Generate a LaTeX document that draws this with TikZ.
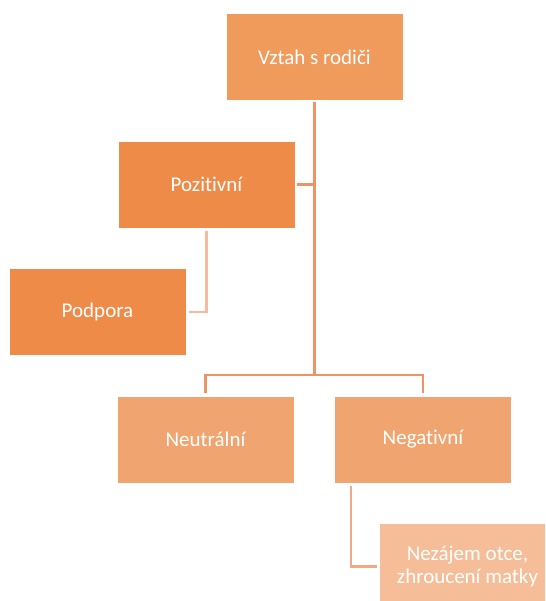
\documentclass[tikz,border=0pt]{standalone}
\usepackage{fontspec}
\setmainfont{Carlito}[Ligatures={NoCommon,NoContextual}]
\usepackage{xcolor}
\usetikzlibrary{calc,positioning}

\definecolor{topfill}{RGB}{240,154,92}
\definecolor{posfill}{RGB}{238,139,72}
\definecolor{midfill}{RGB}{240,165,112}
\definecolor{lowfill}{RGB}{245,190,153}
\definecolor{mainline}{RGB}{239,146,102}
\definecolor{softline}{RGB}{246,186,158}
\definecolor{negline}{RGB}{242,168,132}

\tikzset{
	box/.style={draw=white, line width=0.6pt, text=white, inner sep=0pt,
		minimum width=177pt, minimum height=87pt, align=center,
		font=\fontsize{21}{23.5}\selectfont},
	link/.style={line width=2.5pt}
}

\begin{document}
\begin{tikzpicture}[x=1pt,y=-1pt]
		\clip (0,0) rectangle (545,601);
		\fill[white] (0,0) rectangle (545,601);

		\node[box, fill=topfill] (top) at (314.5,57) {Vztah s rodiči};
		\node[box, fill=posfill] (poz) at (206.5,184.5) {Pozitivní};
		\node[box, fill=posfill] (pod) at (97.5,312) {Podpora};
		\node[box, fill=midfill] (neu) at (205.5,439.5) {Neutrální};
		\node[box, fill=midfill] (neg) at (423,439.5) {Negativní};
		\node[box, fill=lowfill] (nez) at (467.5,566.5) {Nezájem otce,\\zhroucení matky};

		% trunk and bus to the lower level
		\coordinate (bus) at (313,375);
		\draw[link, mainline] ($(top.south)+(0,1)$) -- (top.south |- bus);
		\draw[link, mainline] ($(poz.east)+(2,0)$) -- (poz.east -| top.south);
		\draw[link, mainline] ($(neu.north)+(0,-3)$) -- (neu.north |- bus) -- (neg.north |- bus) -- ($(neg.north)+(0,-3)$);

		% side branches
		\draw[link, softline] ($(poz.south)+(0,3)$) -- (poz.south |- pod.east) -- ($(pod.east)+(3,0)$);
		\coordinate (negdrop) at ($(neg.south west)+(17,3)$);
		\draw[link, negline] (negdrop) -- (negdrop |- nez.west) -- ($(nez.west)+(-2,0)$);
	\end{tikzpicture}
\end{document}
